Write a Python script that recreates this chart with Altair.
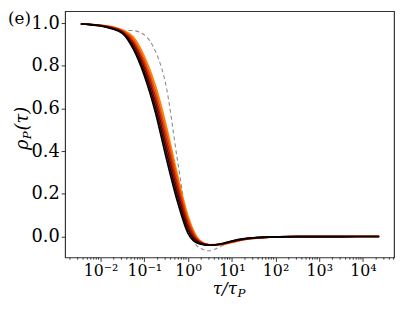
import altair as alt
import pandas as pd

# tau / tau_P sample positions
tau = [0.00355, 0.00562, 0.01, 0.0178, 0.0316, 0.0562, 0.1, 0.178, 0.316, 0.562,
       1.0, 1.78, 3.16, 5.62, 10, 17.8, 31.6, 100, 316, 1000, 3162, 10000, 23400]

# solid curves, drawn from orange (back) to black (front)
curve_orange = [.997, .995, .991, .984, .968, .935, .845, .710, .520, .295, .095, -.015, -.039,
                -.038, -.028, -.016, -.009, -.0022, -.0008, -.0003, -.0001, 0, 0]
curve_f8 = [.997, .995, .990, .982, .965, .924, .827, .685, .490, .270, .078, -.019, -.039,
            -.037, -.027, -.015, -.0084, -.0021, -.0008, -.0003, -.0001, 0, 0]
curve_f6 = [.997, .994, .989, .980, .962, .912, .809, .660, .460, .245, .062, -.023, -.040,
            -.036, -.025, -.014, -.0078, -.0020, -.0007, -.0003, -.0001, 0, 0]
curve_f4 = [.996, .994, .989, .978, .958, .901, .791, .635, .430, .220, .046, -.026, -.040,
            -.036, -.024, -.013, -.0072, -.0019, -.0007, -.0003, -.0001, 0, 0]
curve_f2 = [.996, .993, .988, .976, .955, .889, .773, .610, .400, .195, .030, -.030, -.041,
            -.035, -.022, -.012, -.0066, -.0018, -.0007, -.0003, -.0001, 0, 0]
curve_black = [.996, .993, .987, .974, .952, .878, .755, .585, .370, .170, .015, -.034, -.041,
               -.034, -.021, -.011, -.006, -.0017, -.0007, -.0003, -.0001, 0, 0]

curves = [curve_orange, curve_f8, curve_f6, curve_f4, curve_f2, curve_black]
colors = ["#ff8200", "#ee4c00", "#c41f00", "#7a0a00", "#300200", "#000000"]

# dashed reference curve
curve_dashed = [.997, .995, .990, .980, .967, .965, .945, .870, .705, .370, .060, -.052, -.067,
                -.046, -.023, -.011, -.005, -.0015, -.0007, -.0003, -.0001, 0, 0]

y_ticks = [0.0, 0.2, 0.4, 0.6, 0.8, 1.0]
x_ticks = [0.01, 0.1, 1, 10, 100, 1000, 10000]
minor_ticks = [m * d for d in [0.001, 0.01, 0.1, 1, 10, 100, 1000, 10000]
               for m in range(2, 10) if 0.00155 <= m * d <= 51300]

W, H = 334, 250
FONT = "DejaVu Serif"
AX = "#333333"

xscale = alt.Scale(type="log", domain=[0.00155, 51300], nice=False)
yscale = alt.Scale(domain=[-0.098, 1.056], nice=False, zero=False)

xaxis = alt.Axis(values=x_ticks, title=None, grid=False, domain=False,
                 labelExpr="'10' + ['⁻²','⁻¹','⁰','¹','²','³','⁴'][round(log(datum.value)/LN10)+2]",
                 labelFont=FONT, labelFontSize=16, labelColor="black",
                 tickSize=4, tickColor=AX, labelPadding=1, labelFlush=False)
yaxis = alt.Axis(values=y_ticks, format=".1f", title=None, grid=False, domain=False,
                 labelFont=FONT, labelFontSize=18, labelColor="black",
                 tickSize=4, tickColor=AX, labelPadding=2)


def line_layer(vals, **mark):
    d = pd.DataFrame({"tau": tau, "rho": vals})
    return alt.Chart(d).mark_line(interpolate="monotone", clip=True, **mark).encode(
        x=alt.X("tau:Q", scale=xscale, axis=xaxis),
        y=alt.Y("rho:Q", scale=yscale, axis=yaxis),
    )


layers = [line_layer(curve_dashed, color="#8a8a8a", strokeWidth=1.1, strokeDash=[4, 3])]
for vals, c in zip(curves, colors):
    layers.append(line_layer(vals, color=c, strokeWidth=1.7))

minor = alt.Chart(pd.DataFrame({"tau": minor_ticks})).mark_rule(color=AX, strokeWidth=1).encode(
    x=alt.X("tau:Q", scale=xscale, axis=xaxis),
    y=alt.value(H),
    y2=alt.value(H + 2.2),
)
layers.append(minor)

one = pd.DataFrame({"a": [0]})


def label(text, x, y, size, angle=0, align="left", baseline="alphabetic", italic=True):
    return alt.Chart(one).mark_text(
        text=text, font=FONT, fontSize=size, fontStyle="italic" if italic else "normal",
        align=align, baseline=baseline, angle=angle, color="black",
    ).encode(x=alt.value(x), y=alt.value(y))


layers += [
    label("τ/τ", 174.5, 287, 17, align="right"),
    label("P", 175, 290, 12),
    label("ρ", -38, 141, 18, angle=270),
    label("P", -34.5, 130, 12, angle=270),
    label("(e)", -58, 13, 17, italic=False),
    label("(τ)", -38, 121, 18, angle=270),
]

chart = alt.layer(*layers).properties(
    width=W, height=H,
    autosize=alt.AutoSizeParams(type="none"),
    padding={"left": 58, "top": 1, "right": 5, "bottom": 44},
).configure_view(stroke=AX, strokeWidth=1.2)

chart.save("out.html", embed_options={"renderer": "svg", "actions": False})
